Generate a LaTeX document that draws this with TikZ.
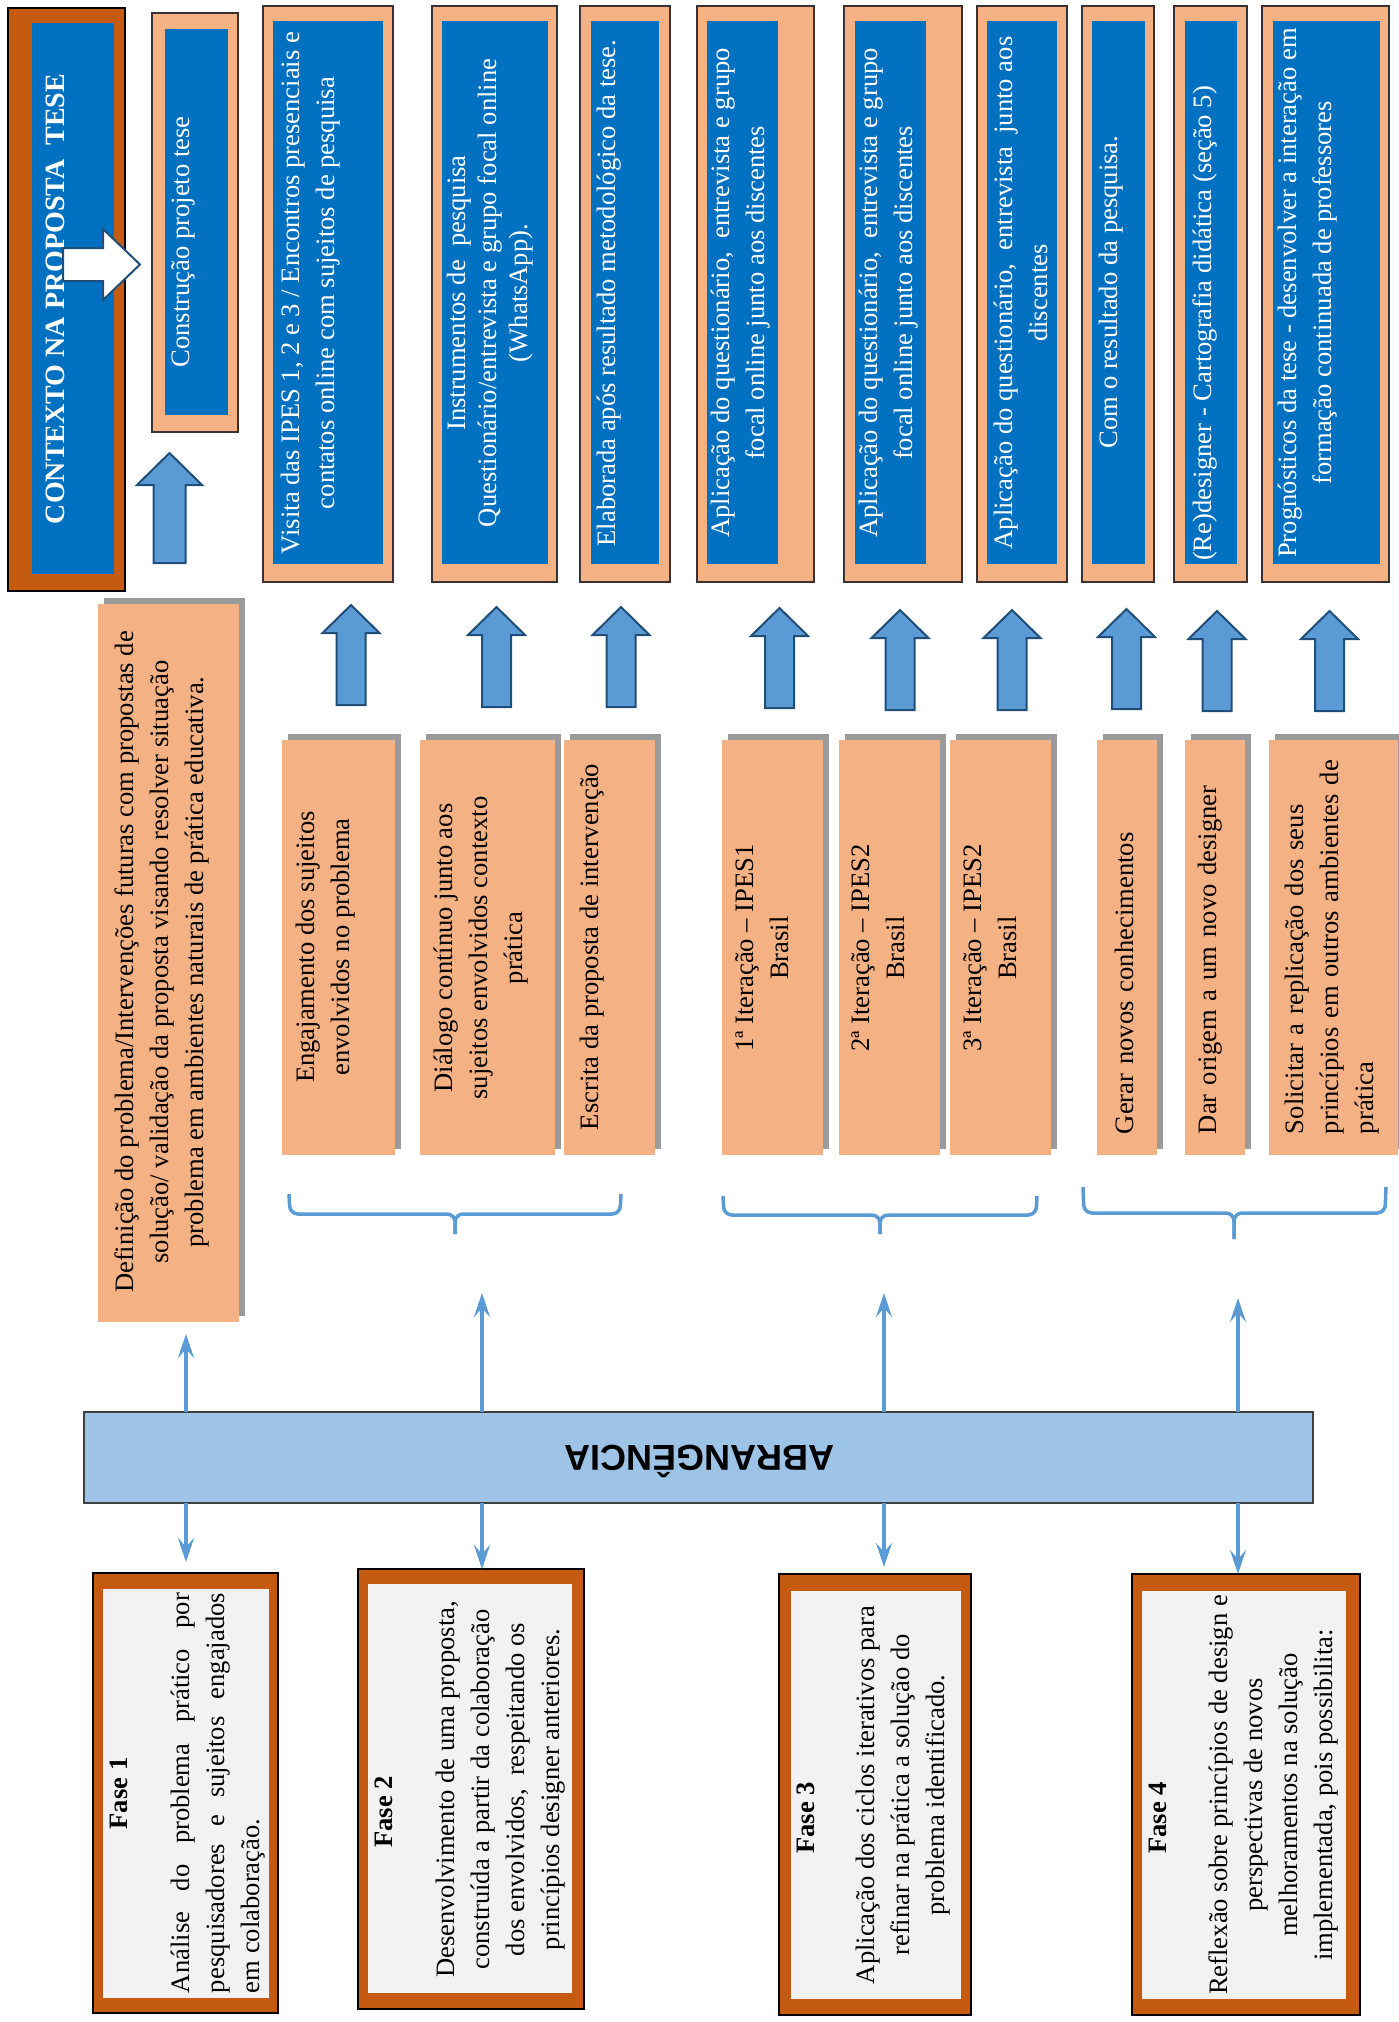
\documentclass[tikz,border=0pt]{standalone}
\usepackage{fontspec}
\setmainfont{Liberation Serif}
\newfontfamily\AbrFont{Liberation Sans}
\usetikzlibrary{arrows.meta,shadows}
\definecolor{peach}{HTML}{F4B183}
\definecolor{rust}{HTML}{C55A11}
\definecolor{deepblue}{HTML}{0070C0}
\definecolor{paleblue}{HTML}{9DC3E6}
\definecolor{linkblue}{HTML}{5B9BD5}
\definecolor{navyedge}{HTML}{1F4E79}
\definecolor{shadowgray}{HTML}{9B9B9B}
\definecolor{fasefill}{HTML}{F2F2F2}
\definecolor{darkedge}{HTML}{3A3232}
\newcommand\BodyFont{\fontsize{26.6}{35}\selectfont}
\newcommand\TightFont{\fontsize{26.6}{31}\selectfont}
\tikzset{
  box/.style={rectangle, inner sep=0pt, outer sep=0pt},
  topframe/.style={box, fill=peach, draw=darkedge, line width=1.6pt},
  rustframe/.style={box, fill=rust, draw=black, line width=1.6pt},
  bluepanel/.style={box, fill=deepblue},
  greypanel/.style={box, fill=fasefill},
  peachcard/.style={box, fill=peach, drop shadow={shadow xshift=6pt, shadow yshift=6pt, fill=shadowgray, opacity=1}},
  wtext/.style={rotate=90, text=white, font=\BodyFont, align=center, inner sep=0pt},
  btext/.style={rotate=90, text=black, font=\BodyFont, align=center, inner sep=0pt},
  barrow/.style={fill=linkblue, draw=navyedge, line width=2pt, line join=miter},
  link/.style={draw=linkblue, line width=3.5pt, -{Stealth[length=24pt,width=16pt,inset=9pt]}},
  bracesty/.style={draw=linkblue, line width=3.5pt, rounded corners=8pt},
  pics/uparr/.style={code={\draw[barrow] (0,0) -- (28.5,28) -- (14.5,28) -- (14.5,100) -- (-14.5,100) -- (-14.5,28) -- (-28.5,28) -- cycle;}},
  pics/uparrbig/.style={code={\draw[barrow] (0,0) -- (32.5,32) -- (16,32) -- (16,110) -- (-16,110) -- (-16,32) -- (-32.5,32) -- cycle;}},
}
\begin{document}
\begin{tikzpicture}[x=1pt,y=-1pt]
\useasboundingbox (0,0) rectangle (1399,2022);

% ---------- top row ----------
\node[rustframe, minimum width=117pt, minimum height=583pt] (ctx) at (66.5,299.5) {};
\node[bluepanel, minimum width=82pt, minimum height=551pt] (ctxin) at (73,298.5) {};
\node[wtext, font=\fontsize{28}{35}\selectfont\bfseries] (ctxt) at (55,299) {CONTEXTO NA PROPOSTA\ \ TESE};

\node[topframe, minimum width=86pt, minimum height=419pt] (proj) at (195,222.5) {};
\node[bluepanel, minimum width=63pt, minimum height=386pt] (projin) at (196.5,222) {};
\node[wtext] (projt) at (183,242) {Construção projeto tese};

\draw[fill=white, draw=navyedge, line width=2pt, line join=miter] (63,248) -- (103,248) -- (103,229) -- (140,264.5) -- (103,300) -- (103,281) -- (63,281) -- cycle;
\pic at (169.5,453) {uparrbig};

\node[topframe, minimum width=130pt, minimum height=576pt] (vis) at (328,294) {};
\node[bluepanel, minimum width=110pt, minimum height=543pt] (visin) at (328,292.5) {};
\node[wtext] (vist) at (310.5,293) {Visita das IPES 1, 2 e 3 / Encontros presenciais e\\contatos online com sujeitos de pesquisa};

\node[topframe, minimum width=125pt, minimum height=576pt] (ins) at (494.5,294) {};
\node[bluepanel, minimum width=106pt, minimum height=543pt] (insin) at (495,292.5) {};
\node[wtext, font=\TightFont] (inst) at (490.5,293) {Instrumentos de\ \ pesquisa\\Questionário/entrevista e grupo focal online\\(WhatsApp).};

\node[topframe, minimum width=90pt, minimum height=576pt] (ela) at (625,294) {};
\node[bluepanel, minimum width=68pt, minimum height=543pt] (elain) at (625,292.5) {};
\node[wtext] (elat) at (609,293) {Elaborada após resultado metodológico da tese.};

\node[topframe, minimum width=117pt, minimum height=576pt] (apa) at (755.5,294) {};
\node[bluepanel, minimum width=71pt, minimum height=543pt] (apain) at (742.5,292.5) {};
\node[wtext] (apat) at (740.5,293) {Aplicação do questionário,\ \ entrevista e grupo\\focal online junto aos discentes};

\node[topframe, minimum width=118pt, minimum height=576pt] (apb) at (903,294) {};
\node[bluepanel, minimum width=71pt, minimum height=543pt] (apbin) at (890.5,292.5) {};
\node[wtext] (apbt) at (888.5,293) {Aplicação do questionário,\ \ entrevista e grupo\\focal online junto aos discentes};

\node[topframe, minimum width=90pt, minimum height=576pt] (apc) at (1022,294) {};
\node[bluepanel, minimum width=70pt, minimum height=543pt] (apcin) at (1022,292.5) {};
\node[wtext] (apct) at (1020.5,293) {Aplicação do questionário,\ \ entrevista\ \ junto aos\\discentes};

\node[topframe, minimum width=72pt, minimum height=576pt] (com) at (1118,294) {};
\node[bluepanel, minimum width=53pt, minimum height=543pt] (comin) at (1118.5,292.5) {};
\node[wtext] (comt) at (1111,292) {Com o resultado da pesquisa.};

\node[topframe, minimum width=73pt, minimum height=576pt] (red) at (1210.5,294) {};
\node[bluepanel, minimum width=52pt, minimum height=543pt] (redin) at (1211,292.5) {};
\node[wtext] (redt) at (1204.5,323.5) {(Re)designer - Cartografia didática (seção 5)};

\node[topframe, minimum width=127pt, minimum height=576pt] (pro) at (1325.5,294) {};
\node[bluepanel, minimum width=107pt, minimum height=543pt] (proin) at (1326.5,292.5) {};
\node[wtext] (prot) at (1307.5,293) {Prognósticos da tese - desenvolver a interação em\\formação continuada de professores};

% ---------- block arrows ----------
\pic at (351,605) {uparr};
\pic at (496.5,607) {uparr};
\pic at (621,607) {uparr};
\pic at (779.5,608) {uparr};
\pic at (900,610) {uparr};
\pic at (1012,610) {uparr};
\pic at (1126.5,609) {uparr};
\pic at (1217,611) {uparr};
\pic at (1329.5,611) {uparr};

% ---------- peach cards ----------
\node[peachcard, minimum width=141pt, minimum height=718pt] (defin) at (168.5,963) {};
\node[btext] (defint) at (161.5,962) {Definição do problema/Intervenções futuras com propostas de\\solução/ validação da proposta visando resolver situação\\problema em ambientes naturais de prática educativa.};

\node[peachcard, minimum width=113pt, minimum height=415pt] (eng) at (338.5,947.5) {};
\node[btext] (engt) at (325.5,947) {Engajamento dos sujeitos\\envolvidos no problema};
\node[peachcard, minimum width=135pt, minimum height=415pt] (dia) at (487.5,947.5) {};
\node[btext] (diat) at (481,948) {Diálogo contínuo junto aos\\sujeitos envolvidos contexto\\prática};
\node[peachcard, minimum width=91pt, minimum height=415pt] (esc) at (609.5,947.5) {};
\node[btext] (esct) at (592.5,947) {Escrita da proposta de intervenção};

\node[peachcard, minimum width=101pt, minimum height=415pt] (ita) at (772.5,947.5) {};
\node[btext] (itat) at (762,948) {1ª Iteração – IPES1\\Brasil};
\node[peachcard, minimum width=101pt, minimum height=415pt] (itb) at (889.5,947.5) {};
\node[btext] (itbt) at (878,948) {2ª Iteração – IPES2\\Brasil};
\node[peachcard, minimum width=101pt, minimum height=415pt] (itc) at (1000.5,947.5) {};
\node[btext] (itct) at (990,948) {3ª Iteração – IPES2\\Brasil};

\node[peachcard, minimum width=60pt, minimum height=415pt] (ger) at (1127,947.5) {};
\node[btext, text width=380pt, align=left] (gert) at (1124,944) {Gerar novos conhecimentos};
\node[peachcard, minimum width=60pt, minimum height=415pt] (dar) at (1215,947.5) {};
\node[btext, text width=380pt, align=left] (dart) at (1210,944) {Dar origem a um novo designer};
\node[peachcard, minimum width=129pt, minimum height=415pt] (sol) at (1333.5,947.5) {};
\node[btext, text width=380pt, align=left] (solt) at (1332.5,944) {Solicitar a replicação dos seus\\princípios em outros ambientes de\\prática};

% ---------- braces ----------
\draw[bracesty] (289,1194) -- (290,1214) -- (455,1214) -- (455,1234);
\draw[bracesty] (621,1194) -- (620,1214) -- (455,1214) -- (455,1234);
\draw[bracesty] (723,1196) -- (724,1215) -- (880,1215) -- (880,1234);
\draw[bracesty] (1037,1196) -- (1036,1215) -- (880,1215) -- (880,1234);
\draw[bracesty] (1083,1187) -- (1084,1213) -- (1234,1213) -- (1234,1239);
\draw[bracesty] (1386,1187) -- (1385,1213) -- (1234,1213) -- (1234,1239);

% ---------- ABRANGENCIA ----------
\node[box, fill=paleblue, draw=black!75, line width=2pt, minimum width=1229pt, minimum height=91pt] (abr) at (698.5,1457.5) {};
\node[rotate=180, inner sep=0pt, font=\AbrFont\bfseries\fontsize{36}{40}\selectfont] (abrt) at (699.5,1461) {ABRANGÊNCIA};

% ---------- Fase boxes ----------
\node[rustframe, minimum width=185pt, minimum height=440pt] (f1) at (185.5,1793) {};
\node[greypanel, minimum width=166pt, minimum height=409pt] (f1in) at (186,1793.5) {};
\node[btext, font=\BodyFont\bfseries] (f1h) at (119,1793.5) {Fase 1};
\node[btext, text width=400pt, align=justify] (f1b) at (218.5,1793) {Análise do problema prático por\linebreak pesquisadores e sujeitos engajados\linebreak em colaboração.};

\node[rustframe, minimum width=226pt, minimum height=440pt] (f2) at (471,1789) {};
\node[greypanel, minimum width=204pt, minimum height=409pt] (f2in) at (470,1788.5) {};
\node[btext, font=\BodyFont\bfseries] (f2h) at (384,1812) {Fase 2};
\node[btext] (f2b) at (501,1789.5) {Desenvolvimento de uma proposta,\\construída a partir da colaboração\\dos envolvidos,\ \ respeitando os\\princípios designer anteriores.};

\node[rustframe, minimum width=192pt, minimum height=441pt] (f3) at (875,1794.5) {};
\node[greypanel, minimum width=170pt, minimum height=408pt] (f3in) at (876,1795) {};
\node[btext, font=\BodyFont\bfseries] (f3h) at (806,1818) {Fase 3};
\node[btext] (f3b) at (903.5,1795) {Aplicação dos ciclos iterativos para\\refinar na prática a solução do\\problema identificado.};

\node[rustframe, minimum width=228pt, minimum height=441pt] (f4) at (1246,1794.5) {};
\node[greypanel, minimum width=204pt, minimum height=408pt] (f4in) at (1244,1795) {};
\node[btext, font=\BodyFont\bfseries] (f4h) at (1158,1818) {Fase 4};
\node[btext] (f4b) at (1273.5,1795) {Reflexão sobre princípios de design e\\perspectivas de novos\\melhoramentos na solução\\implementada, pois possibilita:};

% ---------- connectors ----------
\coordinate (up1) at (186,1334);
\coordinate (up2) at (482,1293);
\coordinate (up3) at (884,1293);
\coordinate (up4) at (1238,1298);
\draw[link] (abr.north -| up1) -- (up1);
\draw[link] (abr.north -| up2) -- (up2);
\draw[link] (abr.north -| up3) -- (up3);
\draw[link] (abr.north -| up4) -- (up4);
\draw[link, shorten >=11pt] (abr.south -| up1) -- (f1.north -| up1);
\draw[link] (abr.south -| up2) -- (f2.north -| up2);
\draw[link, shorten >=7pt] (abr.south -| up3) -- (f3.north -| up3);
\draw[link] (abr.south -| up4) -- (f4.north -| up4);
\end{tikzpicture}
\end{document}
